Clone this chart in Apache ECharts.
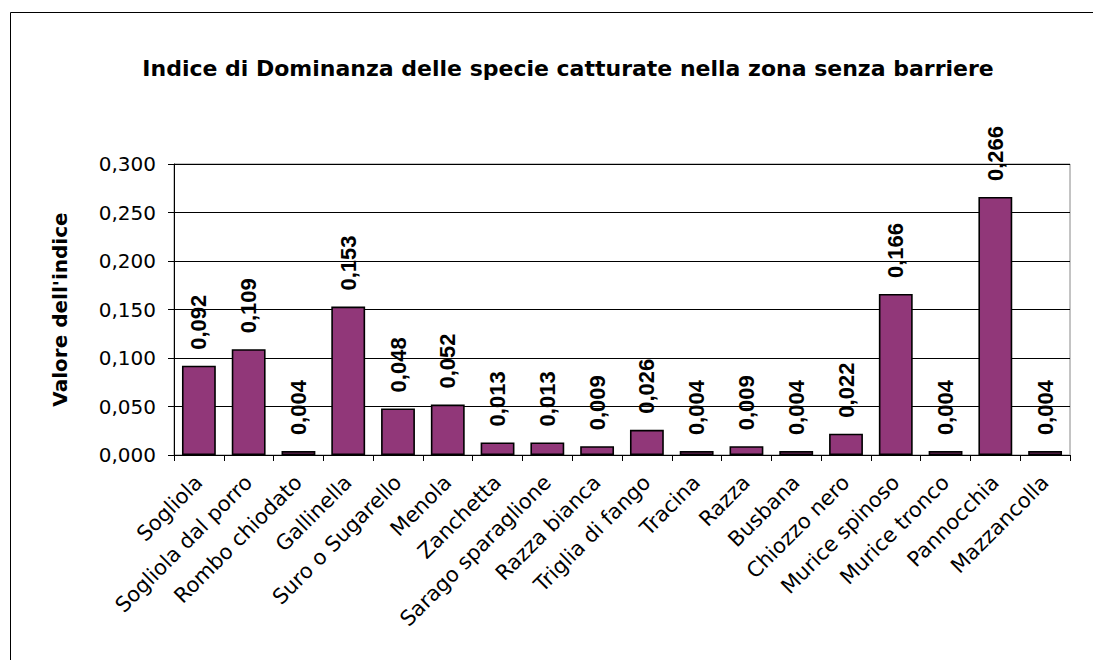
<!DOCTYPE html>
<html>
<head>
<meta charset="utf-8">
<script src="https://cdn.jsdelivr.net/npm/echarts@6/dist/echarts.min.js"></script>
<style>
    html, body { margin: 0; padding: 0; background: #fff; }
    #chart { width: 1093px; height: 660px; }
</style>
</head>
<body>
<div id="chart"></div>
<script>
    var categories = ['Sogliola', 'Sogliola dal porro', 'Rombo chiodato', 'Gallinella', 'Suro o Sugarello',
        'Menola', 'Zanchetta', 'Sarago sparaglione', 'Razza bianca', 'Triglia di fango', 'Tracina',
        'Razza', 'Busbana', 'Chiozzo nero', 'Murice spinoso', 'Murice tronco', 'Pannocchia', 'Mazzancolla'];
    var values = [0.092, 0.109, 0.004, 0.153, 0.048, 0.052, 0.013, 0.013, 0.009, 0.026, 0.004,
        0.009, 0.004, 0.022, 0.166, 0.004, 0.266, 0.004];
    var yTicks = [0, 0.05, 0.1, 0.15, 0.2, 0.25, 0.3];

    function fmt(v, digits) {
        return v.toFixed(digits).replace('.', ',');
    }

    var chart = echarts.init(document.getElementById('chart'), null, { renderer: 'svg' });

    chart.setOption({
        animation: false,
        title: {
            text: 'Indice di Dominanza delle specie catturate nella zona senza barriere',
            left: 563,
            textAlign: 'center',
            top: 52,
            textStyle: {
                fontFamily: 'DejaVu Sans',
                fontSize: 22,
                fontWeight: 'bold',
                color: '#000'
            }
        },
        graphic: [{
            type: 'rect',
            shape: { x: 10.5, y: 12.5, width: 1100, height: 700 },
            style: { fill: 'none', stroke: '#000', lineWidth: 1 },
            silent: true
        }, {
            type: 'rect',
            shape: { x: 174, y: 164, width: 896, height: 291 },
            style: { fill: 'none', stroke: '#888', lineWidth: 1 },
            silent: true,
            z: -1
        }],
        grid: {
            top: 164,
            left: 174,
            right: 23,
            bottom: 205
        },
        xAxis: {
            type: 'category',
            data: categories,
            axisLine: { lineStyle: { color: '#000', width: 1 } },
            axisTick: { show: true, length: 6, lineStyle: { color: '#000' } },
            axisLabel: {
                interval: 0,
                rotate: 45,
                fontFamily: 'DejaVu Sans',
                fontSize: 21,
                color: '#000',
                margin: 24
            }
        },
        yAxis: {
            type: 'value',
            min: yTicks[0],
            max: yTicks[yTicks.length - 1],
            interval: 0.05,
            name: "Valore dell'indice",
            nameLocation: 'middle',
            nameGap: 104,
            nameTextStyle: {
                fontFamily: 'DejaVu Sans',
                fontSize: 20,
                fontWeight: 'bold',
                color: '#000'
            },
            axisLine: { show: true, lineStyle: { color: '#000' } },
            axisTick: { show: true, length: 6, lineStyle: { color: '#000' } },
            splitLine: { lineStyle: { color: '#000', width: 1 } },
            axisLabel: {
                fontFamily: 'DejaVu Sans',
                fontSize: 20,
                color: '#000',
                margin: 18,
                formatter: function (v) { return fmt(v, 3); }
            }
        },
        series: [{
            type: 'bar',
            data: values,
            barWidth: '68%',
            itemStyle: {
                color: '#913779',
                borderColor: '#000',
                borderWidth: 1.6
            },
            label: {
                show: true,
                position: 'top',
                rotate: 90,
                align: 'left',
                verticalAlign: 'middle',
                distance: 16,
                fontFamily: 'Liberation Sans',
                fontSize: 22,
                fontWeight: 'bold',
                color: '#000',
                formatter: function (p) { return fmt(p.value, 3); }
            }
        }]
    });

    window.addEventListener('resize', function () {
        chart.resize();
    });
</script>
</body>
</html>
